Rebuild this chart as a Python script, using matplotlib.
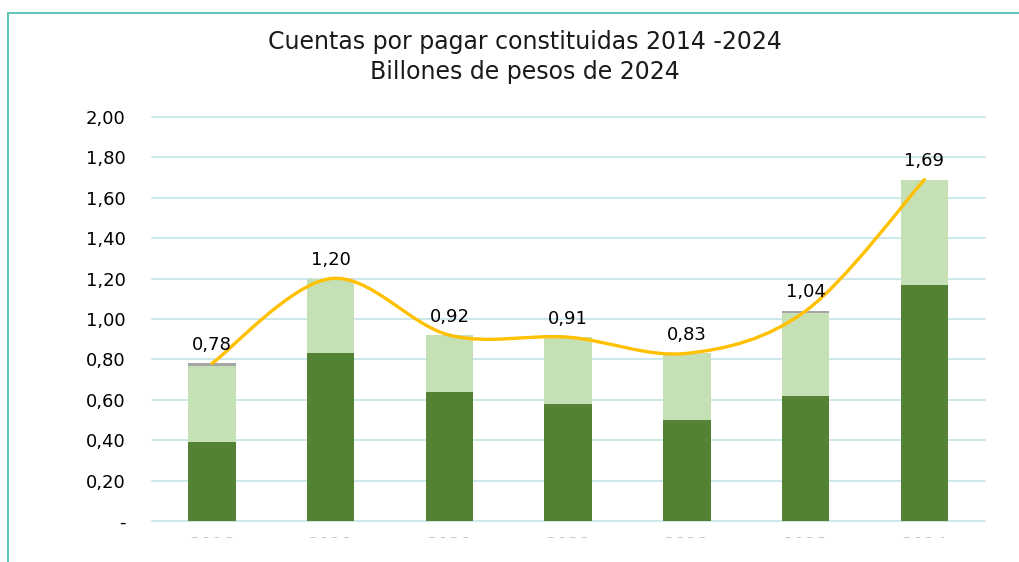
import matplotlib
matplotlib.use("Agg")
import matplotlib.pyplot as plt
from matplotlib.path import Path
from matplotlib.patches import PathPatch
from matplotlib.lines import Line2D
from matplotlib.transforms import Bbox
import numpy as np

years = ["2018", "2019", "2020", "2021", "2022", "2023", "2024"]
dark = [0.39, 0.83, 0.64, 0.58, 0.50, 0.62, 1.17]
light = [0.375, 0.37, 0.28, 0.33, 0.33, 0.41, 0.52]
gray = [0.015, 0.00, 0.00, 0.00, 0.00, 0.01, 0.00]
totals = [0.78, 1.20, 0.92, 0.91, 0.83, 1.04, 1.69]
total_labels = ["0,78", "1,20", "0,92", "0,91", "0,83", "1,04", "1,69"]
yticks = [0, 0.2, 0.4, 0.6, 0.8, 1.0, 1.2, 1.4, 1.6, 1.8, 2.0]
ytick_labels = ["-", "0,20", "0,40", "0,60", "0,80", "1,00", "1,20", "1,40", "1,60", "1,80", "2,00"]

C_DARK = "#548235"
C_LIGHT = "#C5E0B4"
C_GRAY = "#A5A5A5"
C_LINE = "#FFC000"
C_GRID = "#BFE2E4"
C_FRAME = "#5EC4B9"

plt.rcParams['font.family'] = ['DejaVu Sans']

W, H = 1020, 562
fig = plt.figure(figsize=(W / 100, H / 100), dpi=100)
ax = fig.add_axes([152 / W, (H - 521) / H, (985 - 152) / W, (521 - 117) / H])

x = np.arange(len(years))
bw = 0.40
ax.bar(x, dark, bw, color=C_DARK, zorder=2)
ax.bar(x, light, bw, bottom=dark, color=C_LIGHT, zorder=2)
ax.bar(x, gray, bw, bottom=np.array(dark) + np.array(light), color=C_GRAY, zorder=2)

# smooth line (Catmull-Rom as cubic Bezier)
pts = np.column_stack([x, totals]).astype(float)
verts = [tuple(pts[0])]
codes = [Path.MOVETO]
n = len(pts)
for i in range(n - 1):
    p0 = pts[max(i - 1, 0)]
    p1 = pts[i]
    p2 = pts[i + 1]
    p3 = pts[min(i + 2, n - 1)]
    c1 = p1 + (p2 - p0) / 6.0
    c2 = p2 - (p3 - p1) / 6.0
    verts += [tuple(c1), tuple(c2), tuple(p2)]
    codes += [Path.CURVE4] * 3
ax.add_patch(PathPatch(Path(verts, codes), fill=False, edgecolor=C_LINE,
                       lw=2.4, zorder=3, capstyle='round'))

for xi, t, lbl in zip(x, totals, total_labels):
    ax.annotate(lbl, (xi, t), xytext=(0, 13.3), textcoords='offset points',
                ha='center', va='center', fontsize=13, color='#000000', zorder=4)

ax.set_xlim(-0.505, 6.51)
ax.set_ylim(0, 2.0)
ax.set_yticks(yticks)
ax.set_yticklabels(ytick_labels, fontsize=13)
ax.tick_params(axis='y', length=0, pad=19)
ax.set_xticks([])
ax.grid(axis='y', color=C_GRID, lw=1.1, zorder=0)
for gl in ax.yaxis.get_gridlines():
    gl.set_clip_on(False)
for s in ax.spines.values():
    s.set_visible(False)

# x labels, clipped as in the reference
clip = Bbox([[0, H - 538], [W, H]])
for xi, yr in zip(x, years):
    t = ax.text(xi, 0, yr, transform=ax.get_xaxis_transform(), ha='center', va='top',
                fontsize=13, color='#BFBFBF')
    t.set_position((xi, -15 / 404))
    t.set_clip_box(clip)
    t.set_clip_on(True)

fig.text(525 / W, 1 - 42 / H, "Cuentas por pagar constituidas 2014 -2024",
         ha='center', va='center', fontsize=17, color='#1a1a1a')
fig.text(525 / W, 1 - 72 / H, "Billones de pesos de 2024",
         ha='center', va='center', fontsize=17, color='#1a1a1a')

# frame
fig.add_artist(Line2D([8.5 / W, 1.0], [1 - 13 / H, 1 - 13 / H], transform=fig.transFigure,
                      color=C_FRAME, lw=1.4))
fig.add_artist(Line2D([8.5 / W, 8.5 / W], [0, 1 - 13 / H], transform=fig.transFigure,
                      color=C_FRAME, lw=1.4))

fig.savefig("out.png", dpi=100)
